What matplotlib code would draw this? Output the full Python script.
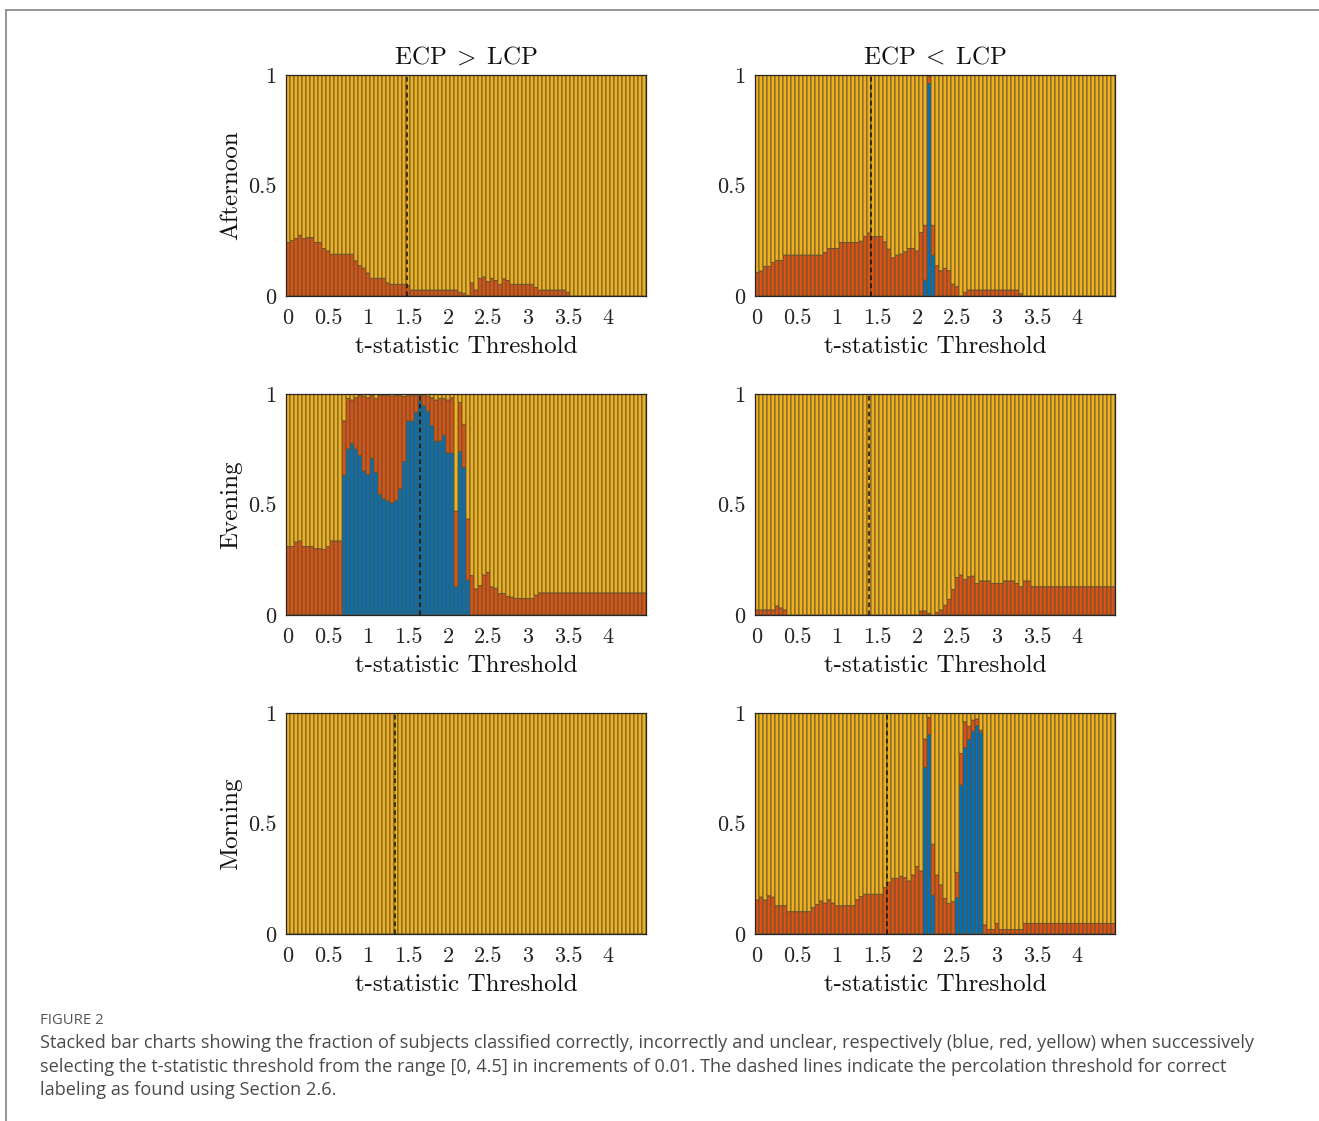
"""Stacked bar charts of classification fractions versus t-statistic threshold."""

import numpy as np
import matplotlib
matplotlib.use("Agg")
from matplotlib import pyplot as plt
from matplotlib.lines import Line2D

plt.rcParams["font.family"] = "serif"
plt.rcParams["font.serif"] = ["cmr10"]
plt.rcParams["mathtext.fontset"] = "cm"
plt.rcParams["axes.formatter.use_mathtext"] = True
plt.rcParams["axes.unicode_minus"] = False

# t-statistic thresholds (bar centres), 0 to 4.45 in steps of 0.05
thresholds = np.round(np.arange(0, 4.5, 0.05), 2)

times = ["Afternoon", "Evening", "Morning"]
directions = [r"ECP$\;>\;$LCP", r"ECP$\;<\;$LCP"]

# fraction classified correctly (blue) and incorrectly (red); the rest is unclear
afternoon_gt_correct = [0.0] * 90
afternoon_gt_incorrect = [
    0.242, 0.252, 0.26, 0.275, 0.26, 0.264, 0.264, 0.242, 0.242, 0.215,
    0.204, 0.189, 0.189, 0.189, 0.189, 0.189, 0.189, 0.159, 0.137, 0.126,
    0.104, 0.08, 0.08, 0.08, 0.08, 0.059, 0.053, 0.053, 0.053, 0.053,
    0.047, 0.027, 0.027, 0.027, 0.027, 0.027, 0.027, 0.027, 0.027, 0.027,
    0.027, 0.027, 0.027, 0.017, 0.012, 0.003, 0.059, 0.027, 0.08, 0.086,
    0.065, 0.08, 0.07, 0.053, 0.077, 0.07, 0.053, 0.053, 0.053, 0.053,
    0.053, 0.053, 0.038, 0.027, 0.027, 0.027, 0.027, 0.027, 0.027, 0.027,
    0.017, 0, 0, 0, 0, 0, 0, 0, 0, 0,
    0, 0, 0, 0, 0, 0, 0, 0, 0, 0,
]

afternoon_lt_correct = [
    0, 0, 0, 0, 0, 0, 0, 0, 0, 0,
    0, 0, 0, 0, 0, 0, 0, 0, 0, 0,
    0, 0, 0, 0, 0, 0, 0, 0, 0, 0,
    0, 0, 0, 0, 0, 0, 0, 0, 0, 0,
    0, 0, 0.072, 0.962, 0.185, 0, 0, 0, 0, 0,
    0, 0, 0, 0, 0, 0, 0, 0, 0, 0,
    0, 0, 0, 0, 0, 0, 0, 0, 0, 0,
    0, 0, 0, 0, 0, 0, 0, 0, 0, 0,
    0, 0, 0, 0, 0, 0, 0, 0, 0, 0,
]
afternoon_lt_incorrect = [
    0.107, 0.113, 0.134, 0.134, 0.152, 0.161, 0.161, 0.185, 0.185, 0.185,
    0.185, 0.185, 0.185, 0.185, 0.185, 0.185, 0.185, 0.197, 0.215, 0.215,
    0.215, 0.242, 0.242, 0.242, 0.242, 0.242, 0.248, 0.27, 0.285, 0.269,
    0.269, 0.269, 0.245, 0.212, 0.173, 0.185, 0.19, 0.2, 0.215, 0.215,
    0.204, 0.287, 0.248, 0.033, 0.135, 0.137, 0.114, 0.125, 0.114, 0.054,
    0.042, 0, 0.017, 0.027, 0.027, 0.027, 0.027, 0.027, 0.027, 0.027,
    0.027, 0.027, 0.027, 0.027, 0.027, 0.027, 0.01, 0, 0, 0,
    0, 0, 0, 0, 0, 0, 0, 0, 0, 0,
    0, 0, 0, 0, 0, 0, 0, 0, 0, 0,
]

evening_gt_correct = [
    0, 0, 0, 0, 0, 0, 0, 0, 0, 0,
    0, 0, 0, 0, 0.633, 0.751, 0.775, 0.751, 0.721, 0.652,
    0.636, 0.709, 0.646, 0.546, 0.525, 0.516, 0.507, 0.519, 0.57, 0.694,
    0.878, 0.878, 0.917, 0.968, 0.947, 0.923, 0.857, 0.787, 0.787, 0.814,
    0.733, 0.733, 0.128, 0.739, 0.667, 0.158, 0, 0, 0, 0,
    0, 0, 0, 0, 0, 0, 0, 0, 0, 0,
    0, 0, 0, 0, 0, 0, 0, 0, 0, 0,
    0, 0, 0, 0, 0, 0, 0, 0, 0, 0,
    0, 0, 0, 0, 0, 0, 0, 0, 0, 0,
]
evening_gt_incorrect = [
    0.31, 0.31, 0.33, 0.335, 0.31, 0.31, 0.31, 0.30, 0.30, 0.297,
    0.31, 0.335, 0.335, 0.335, 0.245, 0.229, 0.198, 0.232, 0.274, 0.338,
    0.347, 0.283, 0.334, 0.449, 0.47, 0.479, 0.483, 0.476, 0.425, 0.294,
    0.114, 0.117, 0.078, 0.027, 0.048, 0.067, 0.126, 0.186, 0.193, 0.166,
    0.24, 0.25, 0.342, 0.223, 0.196, 0.276, 0.178, 0.118, 0.133, 0.181,
    0.193, 0.127, 0.121, 0.097, 0.097, 0.084, 0.081, 0.075, 0.075, 0.075,
    0.075, 0.075, 0.09, 0.1, 0.1, 0.1, 0.1, 0.1, 0.1, 0.1,
    0.1, 0.1, 0.1, 0.1, 0.1, 0.1, 0.1, 0.1, 0.1, 0.1,
    0.1, 0.1, 0.1, 0.1, 0.1, 0.1, 0.1, 0.1, 0.1, 0.1,
]

evening_lt_correct = [0.0] * 90
evening_lt_incorrect = [
    0.023, 0.023, 0.023, 0.023, 0.023, 0.041, 0.032, 0.023, 0, 0,
    0, 0, 0, 0, 0, 0, 0, 0, 0, 0,
    0, 0, 0, 0, 0, 0, 0, 0, 0, 0,
    0, 0, 0, 0, 0, 0, 0, 0, 0, 0,
    0, 0.018, 0.018, 0.008, 0, 0.012, 0.023, 0.044, 0.071, 0.116,
    0.17, 0.181, 0.161, 0.173, 0.176, 0.143, 0.154, 0.154, 0.154, 0.143,
    0.143, 0.143, 0.154, 0.154, 0.154, 0.143, 0.128, 0.154, 0.154, 0.128,
    0.128, 0.128, 0.128, 0.128, 0.128, 0.128, 0.128, 0.128, 0.128, 0.128,
    0.128, 0.128, 0.128, 0.128, 0.128, 0.128, 0.128, 0.128, 0.128, 0.128,
]

morning_gt_correct = [0.0] * 90
morning_gt_incorrect = [0.0] * 90

morning_lt_correct = [
    0, 0, 0, 0, 0, 0, 0, 0, 0, 0,
    0, 0, 0, 0, 0, 0, 0, 0, 0, 0,
    0, 0, 0, 0, 0, 0, 0, 0, 0, 0,
    0, 0, 0, 0, 0, 0, 0, 0, 0, 0,
    0, 0, 0.753, 0.903, 0.176, 0, 0, 0, 0, 0,
    0.164, 0.674, 0.843, 0.88, 0.918, 0.944, 0.912, 0, 0, 0,
    0, 0, 0, 0, 0, 0, 0, 0, 0, 0,
    0, 0, 0, 0, 0, 0, 0, 0, 0, 0,
    0, 0, 0, 0, 0, 0, 0, 0, 0, 0,
]
morning_lt_incorrect = [
    0.154, 0.167, 0.154, 0.173, 0.167, 0.128, 0.128, 0.128, 0.101, 0.101,
    0.101, 0.101, 0.101, 0.101, 0.119, 0.134, 0.149, 0.14, 0.155, 0.14,
    0.128, 0.128, 0.128, 0.128, 0.128, 0.155, 0.17, 0.18, 0.18, 0.18,
    0.18, 0.18, 0.21, 0.234, 0.252, 0.252, 0.261, 0.255, 0.24, 0.267,
    0.306, 0.285, 0.129, 0.076, 0.23, 0.267, 0.222, 0.161, 0.139, 0.146,
    0.115, 0.143, 0.117, 0.06, 0.05, 0.029, 0.01, 0.041, 0.02, 0.02,
    0.048, 0.02, 0.02, 0.02, 0.02, 0.02, 0.02, 0.048, 0.048, 0.048,
    0.048, 0.048, 0.048, 0.048, 0.048, 0.048, 0.048, 0.048, 0.048, 0.048,
    0.048, 0.048, 0.048, 0.048, 0.048, 0.048, 0.048, 0.048, 0.048, 0.048,
]

# percolation thresholds (dashed lines), per time of day
percolation_gt = [1.485, 1.645, 1.34]
percolation_lt = [1.425, 1.395, 1.63]

xtick_values = [0, 0.5, 1, 1.5, 2, 2.5, 3, 3.5, 4]
xtick_labels = ["0", "0.5", "1", "1.5", "2", "2.5", "3", "3.5", "4"]
ytick_values = [0, 0.5, 1]
ytick_labels = ["0", "0.5", "1"]

caption_lines = [
    "Stacked bar charts showing the fraction of subjects classified correctly, incorrectly and unclear, "
    "respectively (blue, red, yellow) when successively",
    "selecting the t-statistic threshold from the range [0, 4.5] in increments of 0.01. The dashed lines "
    "indicate the percolation threshold for correct",
    "labeling as found using Section 2.6.",
]

BLUE = "#0072BD"
RED = "#D95319"
YELLOW = "#EDB120"
EDGE = "#64522e"


def drawPanel(ax, correct, incorrect, percolation):
    """Draw one stacked bar chart with its dashed percolation line."""
    correct = np.asarray(correct, dtype=float)
    incorrect = np.asarray(incorrect, dtype=float)
    unclear = 1.0 - correct - incorrect

    # bars are exactly 4 px wide; with snapping off every edge is antialiased the same way
    barStyle = dict(width=0.05, edgecolor=EDGE, linewidth=0.65, align="center", snap=False)
    ax.bar(thresholds, correct, color=BLUE, **barStyle)
    ax.bar(thresholds, incorrect, bottom=correct, color=RED, **barStyle)
    ax.bar(thresholds, unclear, bottom=correct + incorrect, color=YELLOW, **barStyle)
    ax.axvline(percolation, color="#111111", linestyle=(0, (3, 2.2)), linewidth=1.1)

    ax.set_xlim(-0.025, 4.475)
    ax.set_ylim(0, 1)
    ax.set_xticks(xtick_values)
    ax.set_xticklabels(xtick_labels)
    ax.set_yticks(ytick_values)
    ax.set_yticklabels(ytick_labels)
    ax.tick_params(axis="x", length=0, labelsize=16, pad=9, colors="#222222")
    ax.tick_params(axis="y", length=0, labelsize=16, pad=7, colors="#222222")
    for spine in ax.spines.values():
        spine.set_color("#262626")
        spine.set_linewidth(0.9)
    ax.set_xlabel("t-statistic Threshold", fontsize=18, labelpad=6, color="#111111")


panelData = [
    [(afternoon_gt_correct, afternoon_gt_incorrect), (afternoon_lt_correct, afternoon_lt_incorrect)],
    [(evening_gt_correct, evening_gt_incorrect), (evening_lt_correct, evening_lt_incorrect)],
    [(morning_gt_correct, morning_gt_incorrect), (morning_lt_correct, morning_lt_incorrect)],
]
percolations = [percolation_gt, percolation_lt]

figW, figH = 1319, 1121
fig = plt.figure(figsize=(figW / 100, figH / 100), dpi=100)

# 360 px wide axes -> every bar is exactly 4 px wide
colLefts = [286, 755]
rowTops = [75, 394, 713]
axW, axH = 360, 221

for row in range(3):
    for col in range(2):
        rect = [colLefts[col] / figW, 1 - (rowTops[row] + axH) / figH, axW / figW, axH / figH]
        ax = fig.add_axes(rect)
        correct, incorrect = panelData[row][col]
        drawPanel(ax, correct, incorrect, percolations[col][row])
        if row == 0:
            ax.set_title(directions[col], fontsize=18, pad=8, color="#111111")
        if col == 0:
            ax.set_ylabel(times[row], fontsize=18, labelpad=4, color="#111111")

# figure frame and caption
fig.add_artist(Line2D([6 / figW, 6 / figW], [0, 1 - 10 / figH], transform=fig.transFigure,
                      color="#8c8c8c", linewidth=1.3))
fig.add_artist(Line2D([6 / figW, 1], [1 - 10 / figH, 1 - 10 / figH], transform=fig.transFigure,
                      color="#8c8c8c", linewidth=1.3))

fig.text(40 / figW, 1 - 1020 / figH, "FIGURE 2", family=["Open Sans", "DejaVu Sans"],
         fontsize=10.7, color="#555555", va="center", ha="left")
for i, line in enumerate(caption_lines):
    fig.text(40 / figW, 1 - (1043 + 23.5 * i) / figH, line, family=["Open Sans", "DejaVu Sans"],
             fontsize=13.1, color="#4a4a4a", va="center", ha="left")

fig.savefig("out.png", dpi=100)
